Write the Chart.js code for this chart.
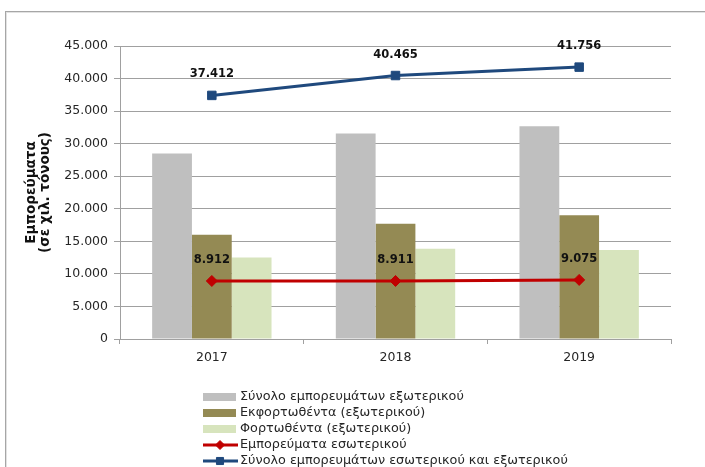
<!DOCTYPE html>
<html>
<head>
<meta charset="utf-8">
<script src="https://cdn.jsdelivr.net/npm/chart.js@4.4.0/dist/chart.umd.min.js"></script>
<style>
html,body{margin:0;padding:0;background:#fff;}
#wrap{position:relative;width:705px;height:467px;overflow:hidden;}
#frame{position:absolute;left:5px;top:11px;width:760px;height:520px;border:1px solid #a6a6a6;box-shadow:inset 1px 1px 0 #e2e2e2;}
canvas{position:absolute;left:0;top:0;}
</style>
</head>
<body>
<div id="wrap"><div id="frame"></div><canvas id="chart" width="705" height="467"></canvas></div>
<script>
// values (χιλ. τόνοι)
const years=["2017","2018","2019"];
const totalForeign=[28500,31554,32681];
const unloadedForeign=[16000,17700,19000];
const loadedForeign=[12500,13850,13650];
const domestic=[8912,8911,9075];
const totalAll=[37412,40465,41756];
const yTicks=[0,5000,10000,15000,20000,25000,30000,35000,40000,45000];
const names=[
    "Σύνολο εμπορευμάτων εξωτερικού",
    "Εκφορτωθέντα (εξωτερικού)",
    "Φορτωθέντα (εξωτερικού)",
    "Εμπορεύματα εσωτερικού",
    "Σύνολο εμπορευμάτων εσωτερικού και εξωτερικού"
];
const axisTitle=["Εμπορεύματα","(σε χιλ. τόνους)"];

const FONT="'DejaVu Sans', sans-serif";
const GRID="#a0a0a0";

function fmt(v){
    return String(v).replace(/\B(?=(\d{3})+(?!\d))/g,".");
}

const valueLabels={
    id:"valueLabels",
    afterDatasetsDraw(chart){
        const ctx=chart.ctx;
        ctx.save();
        ctx.font="bold 11.5px "+FONT;
        ctx.fillStyle="#111";
        ctx.textAlign="center";
        ctx.textBaseline="middle";
        chart.data.datasets.forEach((ds,i)=>{
            if(ds.type!=="line") return;
            chart.getDatasetMeta(i).data.forEach((pt,j)=>{
                ctx.fillText(fmt(ds.data[j]),pt.x,pt.y-21);
            });
        });
        ctx.restore();
    }
};

const bottomLegend={
    id:"bottomLegend",
    afterDraw(chart){
        const ctx=chart.ctx;
        const x0=203, y0=397, step=16;
        ctx.save();
        ctx.font="12.8px "+FONT;
        ctx.textBaseline="middle";
        ctx.textAlign="left";
        chart.data.datasets.forEach((ds,i)=>{
            const y=y0+i*step;
            if(ds.type==="line"){
                ctx.strokeStyle=ds.borderColor;
                ctx.lineWidth=3;
                ctx.beginPath();
                ctx.moveTo(x0,y);
                ctx.lineTo(x0+35,y);
                ctx.stroke();
                ctx.fillStyle=ds.borderColor;
                ctx.lineWidth=1;
                Chart.helpers.drawPoint(ctx,{pointStyle:ds.pointStyle,rotation:0,radius:ds.pointRadius-1,borderWidth:1},x0+17,y);
            }else{
                ctx.fillStyle=ds.backgroundColor;
                ctx.fillRect(x0,y-4,33,8);
            }
            ctx.fillStyle="#262626";
            ctx.fillText(ds.label,x0+37,y);
        });
        ctx.restore();
    }
};

const ctx=document.getElementById("chart").getContext("2d");
new Chart(ctx,{
    type:"bar",
    data:{
        labels:years,
        datasets:[
            {type:"bar",label:names[0],data:totalForeign,backgroundColor:"#BFBFBF",order:2},
            {type:"bar",label:names[1],data:unloadedForeign,backgroundColor:"#948A54",order:2},
            {type:"bar",label:names[2],data:loadedForeign,backgroundColor:"#D7E4BD",order:2},
            {type:"line",label:names[3],data:domestic,borderColor:"#C00000",backgroundColor:"#C00000",
                borderWidth:3,pointStyle:"rectRot",pointRadius:5.5,pointBackgroundColor:"#C00000",
                pointBorderColor:"#C00000",pointBorderWidth:1,tension:0,order:1},
            {type:"line",label:names[4],data:totalAll,borderColor:"#1F497D",backgroundColor:"#1F497D",
                borderWidth:3,pointStyle:"rect",pointRadius:6,pointBackgroundColor:"#1F497D",
                pointBorderColor:"#1F497D",pointBorderWidth:1,tension:0,order:0}
        ]
    },
    options:{
        responsive:false,
        animation:false,
        layout:{padding:{left:0,right:34,top:46,bottom:98}},
        datasets:{bar:{categoryPercentage:0.65,barPercentage:1}},
        plugins:{legend:{display:false},tooltip:{enabled:false}},
        scales:{
            x:{
                grid:{display:true,drawOnChartArea:false,drawTicks:true,tickLength:5,color:GRID,offset:true},
                border:{display:true,color:GRID,width:1},
                ticks:{color:"#262626",font:{family:FONT,size:12.5},padding:6},
                afterFit(s){s.height=30;}
            },
            y:{
                min:0,max:45000,
                afterBuildTicks(s){s.ticks=yTicks.map(v=>({value:v}));},
                grid:{color:GRID,lineWidth:1,drawTicks:true,tickLength:6},
                border:{display:true,color:GRID,width:1},
                ticks:{color:"#262626",font:{family:FONT,size:12.5},padding:6,callback:v=>fmt(v)},
                title:{display:true,text:axisTitle,color:"#111",
                    font:{family:FONT,size:13.5,weight:"bold",lineHeight:1.05},padding:{top:24,bottom:0}},
                afterFit(s){s.width=120;}
            }
        }
    },
    plugins:[valueLabels,bottomLegend]
});
</script>
</body>
</html>
